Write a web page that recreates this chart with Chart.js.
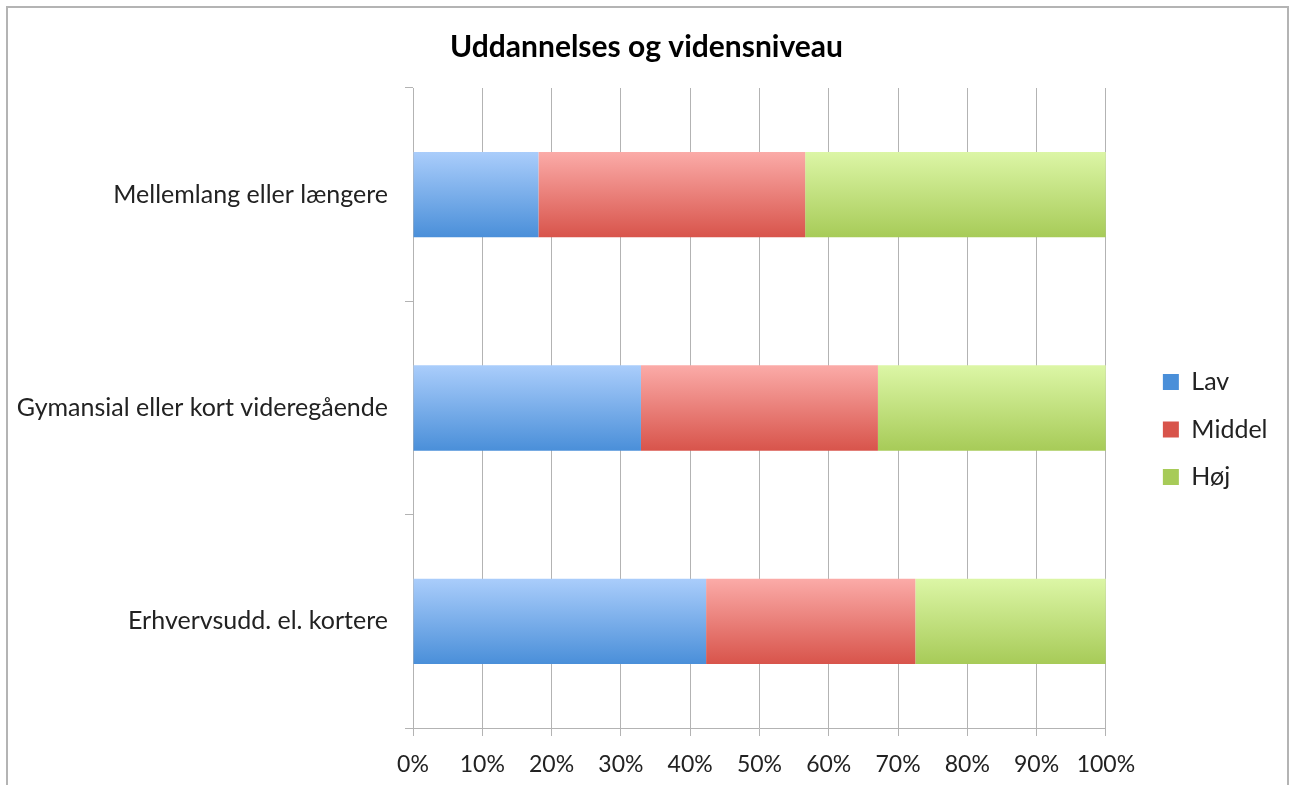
<!DOCTYPE html>
<html>
<head>
<meta charset="utf-8">
<script src="https://cdn.jsdelivr.net/npm/chart.js@4.4.0/dist/chart.umd.min.js"></script>
<style>
  html, body { margin: 0; padding: 0; background: #fff; overflow: hidden; }
  #ramme { position: absolute; left: 6px; top: 6px; width: 1279px; height: 820px;
           border: 2px solid #b4b4b4; border-bottom: none; }
  #graf { position: absolute; left: 0; top: 0; }
</style>
</head>
<body>
<div id="ramme"></div>
<canvas id="graf" width="1289" height="785"></canvas>
<script>
// Data (procent)
const kategorier = ['Mellemlang eller længere', 'Gymansial eller kort videregående', 'Erhvervsudd. el. kortere'];
const serier = ['Lav', 'Middel', 'Høj'];
const lav = [18.1, 32.9, 42.3];
const middel = [38.5, 34.2, 30.2];
const hoej = [43.4, 32.9, 27.5];
const xTicks = [0, 10, 20, 30, 40, 50, 60, 70, 80, 90, 100];

const farver = {
  Lav:    { lys: '#aacdfb', mork: '#4a8fd9', flad: '#6fa5e6' },
  Middel: { lys: '#fbaba8', mork: '#d8544b', flad: '#e77b74' },
  'Høj':  { lys: '#dcf6a6', mork: '#a7cb58', flad: '#c2e07e' }
};

const skrift = 'Lato, "Open Sans", sans-serif';
const gitter = '#b3b3b3';

function gradient(navn) {
  return ctx => {
    const f = farver[navn];
    if (ctx.type !== 'data') return f.flad;
    const y = ctx.chart.scales.y;
    if (!y || !ctx.chart.chartArea) return f.flad;
    const midt = y.getPixelForValue(ctx.dataIndex);
    const halv = (y.height / kategorier.length) * 0.4 / 2;
    const g = ctx.chart.ctx.createLinearGradient(0, midt - halv, 0, midt + halv);
    g.addColorStop(0, f.lys);
    g.addColorStop(1, f.mork);
    return g;
  };
}

const datasaet = [lav, middel, hoej].map((vaerdier, i) => ({
  label: serier[i],
  data: vaerdier,
  backgroundColor: gradient(serier[i]),
  borderWidth: 0,
  categoryPercentage: 1,
  barPercentage: 0.4
}));

new Chart(document.getElementById('graf'), {
  type: 'bar',
  data: { labels: kategorier, datasets: datasaet },
  options: {
    responsive: false,
    animation: false,
    indexAxis: 'y',
    layout: { padding: { left: 15.5, right: 11.5, top: 0, bottom: 0 } },
    plugins: {
      title: {
        display: true,
        text: 'Uddannelses og vidensniveau',
        color: '#000',
        font: { family: skrift, size: 30, weight: 'bold' },
        padding: { top: 29, bottom: 23 }
      },
      legend: {
        position: 'right',
        // tom titel skubber punkterne ned
        title: { display: true, text: ' ', font: { size: 10 }, padding: { top: 62, bottom: 0 } },
        labels: {
          color: '#222',
          font: { family: skrift, size: 25 },
          boxWidth: 16,
          boxHeight: 16,
          padding: 22.5
        }
      },
      tooltip: { enabled: false }
    },
    scales: {
      x: {
        stacked: true,
        min: 0,
        max: 100,
        afterBuildTicks: s => { s.ticks = xTicks.map(v => ({ value: v })); },
        ticks: {
          color: '#222',
          font: { family: skrift, size: 23 },
          padding: 15,
          maxRotation: 0,
          callback: v => v + '%'
        },
        grid: { color: gitter, lineWidth: 1, tickLength: 8 },
        border: { color: gitter, width: 1 },
        afterFit: s => { s.height = 57; }
      },
      y: {
        stacked: true,
        ticks: {
          color: '#222',
          font: { family: skrift, size: 25 },
          padding: 17
        },
        grid: { display: true, drawOnChartArea: false, color: gitter, tickLength: 8, offset: true },
        border: { color: gitter, width: 1 },
        afterFit: s => { s.width = 397.5; }
      },
      ekstra: {
        type: 'category',
        position: 'right',
        display: true,
        grid: { display: false },
        border: { display: false },
        ticks: { display: false },
        afterFit: s => { s.width = 34.5; }
      }
    }
  }
});
</script>
</body>
</html>
